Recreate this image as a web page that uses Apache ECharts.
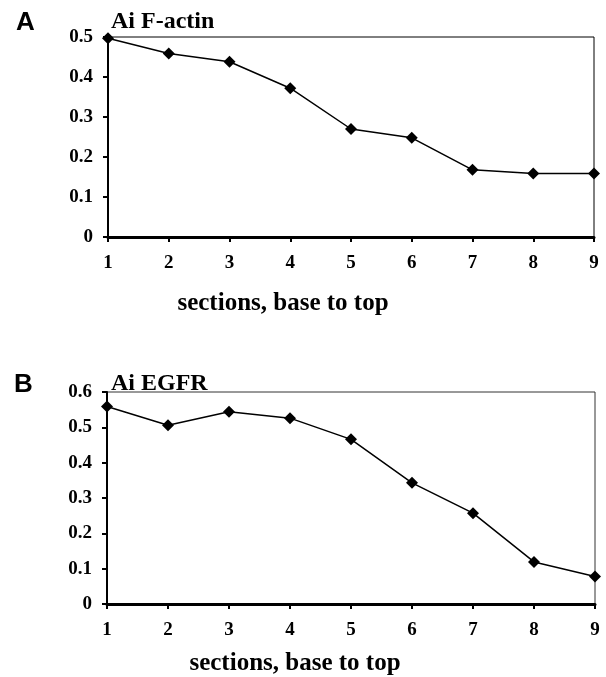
<!DOCTYPE html>
<html>
<head>
<meta charset="utf-8">
<script src="https://cdn.jsdelivr.net/npm/echarts@6/dist/echarts.min.js"></script>
<style>
  html, body { margin: 0; padding: 0; background: #fff; }
  #chart { width: 606px; height: 677px; }
</style>
</head>
<body>
<div id="chart"></div>
<script>
// sections along the cell, base to top
var sections = ['1', '2', '3', '4', '5', '6', '7', '8', '9']
// asymmetry index values
var fActin = [0.497, 0.459, 0.438, 0.372, 0.270, 0.248, 0.168, 0.159, 0.159]
var egfr = [0.559, 0.506, 0.544, 0.526, 0.466, 0.343, 0.257, 0.119, 0.078]

var serif = '"Liberation Serif", "Times New Roman", serif'

// shift = right padding, pushes the axis name left of the plot centre like the original
function xAxisOf(idx, gap, shift) {
  return {
    gridIndex: idx,
    type: 'category',
    data: sections,
    boundaryGap: false,
    name: 'sections, base to top',
    nameLocation: 'middle',
    nameGap: gap,
    nameTextStyle: { fontFamily: serif, fontWeight: 'bold', fontSize: 25, color: '#000', padding: [0, shift, 0, 0] },
    axisLine: { lineStyle: { color: '#000', width: 3 } },
    axisTick: { show: true, inside: false, length: 5, alignWithLabel: true, lineStyle: { color: '#000', width: 2 } },
    axisLabel: { fontFamily: serif, fontWeight: 'bold', fontSize: 19, color: '#000', margin: 17 },
    splitLine: { show: false }
  }
}

function yAxisOf(idx, max) {
  return {
    gridIndex: idx,
    type: 'value',
    min: 0,
    max: max,
    interval: 0.1,
    axisLine: { show: true, lineStyle: { color: '#000', width: 2 } },
    axisTick: { show: true, length: 5, lineStyle: { color: '#000', width: 2 } },
    axisLabel: {
      fontFamily: serif, fontWeight: 'bold', fontSize: 19, color: '#000', margin: 15,
      formatter: function (v) { return v === 0 ? '0' : v.toFixed(1) }
    },
    splitLine: { show: false }
  }
}

function lineOf(idx, data) {
  return {
    type: 'line',
    xAxisIndex: idx,
    yAxisIndex: idx,
    data: data,
    symbol: 'diamond',
    symbolSize: 12,
    lineStyle: { color: '#000', width: 1.5 },
    itemStyle: { color: '#000' },
    animation: false
  }
}

var chart = echarts.init(document.getElementById('chart'))
chart.setOption({
  backgroundColor: '#fff',
  title: [
    { text: 'A', left: 11, top: 5, textStyle: { fontFamily: '"Liberation Sans", Arial, sans-serif', fontWeight: 'bold', fontSize: 26, color: '#000' } },
    { text: 'Ai F-actin', left: 106, top: 5, textStyle: { fontFamily: serif, fontWeight: 'bold', fontSize: 24, color: '#000' } },
    { text: 'B', left: 9, top: 367, textStyle: { fontFamily: '"Liberation Sans", Arial, sans-serif', fontWeight: 'bold', fontSize: 26, color: '#000' } },
    { text: 'Ai EGFR', left: 106, top: 367, textStyle: { fontFamily: serif, fontWeight: 'bold', fontSize: 24, color: '#000' } }
  ],
  grid: [
    { left: 108, right: 12, top: 37, height: 200, show: true, borderColor: '#000', borderWidth: 1, backgroundColor: 'transparent' },
    { left: 107, right: 11, top: 392, height: 215, show: true, borderColor: '#333', borderWidth: 1, backgroundColor: 'transparent' }
  ],
  xAxis: [xAxisOf(0, 54, 136), xAxisOf(1, 47, 112)],
  yAxis: [yAxisOf(0, 0.5), yAxisOf(1, 0.6)],
  series: [lineOf(0, fActin), lineOf(1, egfr)]
})
</script>
</body>
</html>
